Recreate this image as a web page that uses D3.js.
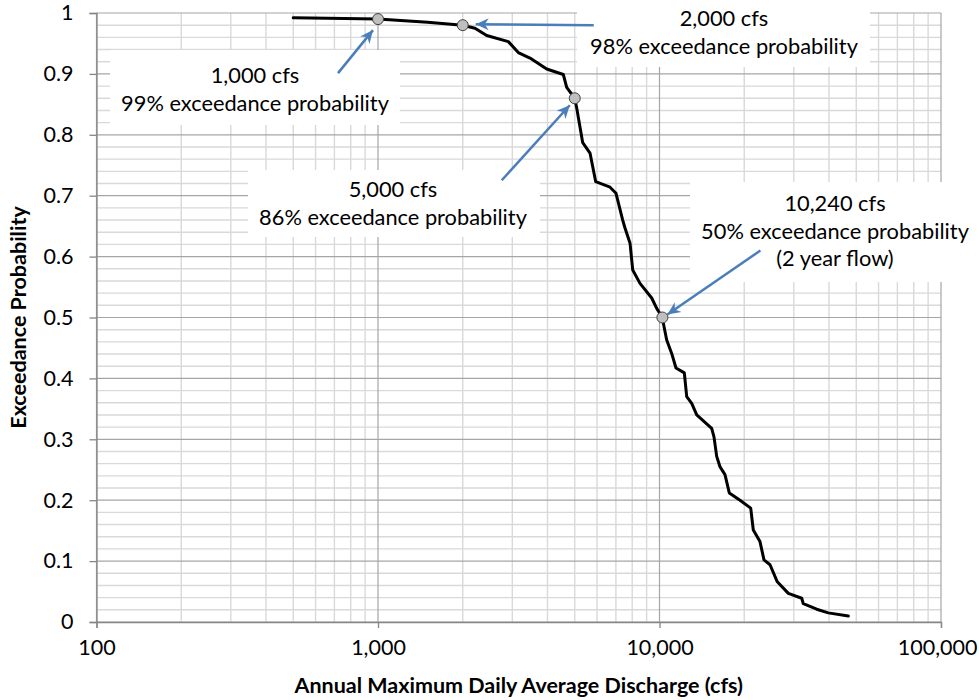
<!DOCTYPE html>
<html>
<head>
<meta charset="utf-8">
<script src="https://cdn.jsdelivr.net/npm/d3@7"></script>
<style>
  html, body { margin: 0; padding: 0; background: #fff; }
  svg { display: block; font-family: Lato, "Open Sans", sans-serif; }
</style>
</head>
<body>
<svg id="chart" width="979" height="700"></svg>
<script>
// Annual maximum daily average discharge (cfs) and its exceedance probability
const discharge = [500, 1000, 1500, 2000, 2211, 2433, 2904, 3150, 3467, 3975, 4553, 4681,
  5000, 5080, 5336, 5664, 5935, 6673, 7006, 7401, 7541, 7858, 8033, 8526, 9382, 9773, 10240,
  10316, 10607, 11048, 11444, 12251, 12494, 13014, 13559, 15324, 15615, 15965, 16400, 17085,
  17700, 19320, 21086, 21537, 22750, 23505, 24695, 26212, 28687, 32002, 32424, 36180, 39780, 46860];
const exceedance = [0.992, 0.99, 0.985, 0.98, 0.975, 0.963, 0.953, 0.935, 0.926, 0.908, 0.899, 0.878,
  0.86, 0.844, 0.787, 0.770, 0.723, 0.714, 0.704, 0.660, 0.647, 0.622, 0.578, 0.556, 0.532, 0.515, 0.500,
  0.491, 0.463, 0.441, 0.417, 0.409, 0.370, 0.359, 0.340, 0.318, 0.304, 0.272, 0.255, 0.242,
  0.212, 0.200, 0.187, 0.151, 0.132, 0.102, 0.094, 0.066, 0.047, 0.039, 0.030, 0.021, 0.015, 0.010];

// Highlighted flows
const markerFlow = [1000, 2000, 5000, 10240];
const markerProb = [0.99, 0.98, 0.86, 0.50];

// Axis ticks
const xTicks = [100, 1000, 10000, 100000];
const yTicks = [0, 0.1, 0.2, 0.3, 0.4, 0.5, 0.6, 0.7, 0.8, 0.9, 1];

// Callout text for each highlighted flow
const calloutLines = [
  ["1,000 cfs", "99% exceedance probability"],
  ["2,000 cfs", "98% exceedance probability"],
  ["5,000 cfs", "86% exceedance probability"],
  ["10,240 cfs", "50% exceedance probability", "(2 year flow)"]
];

const W = 979, H = 700;
const margin = { left: 96.5, right: 38, top: 13, bottom: 78 };

const svg = d3.select("#chart");
const x = d3.scaleLog().domain([100, 100000]).range([margin.left, W - margin.right]);
const y = d3.scaleLinear().domain([0, 1]).range([H - margin.bottom, margin.top]);

// ---- gridlines ----
const grid = svg.append("g");
const minorY = d3.range(0, 50).map(i => i * 0.02).filter((v, i) => i % 5 !== 0);
const minorX = [];
[100, 1000, 10000].forEach(d => { for (let k = 2; k <= 9; k++) minorX.push(d * k); });

grid.selectAll(".hminor").data(minorY).join("line")
  .attr("x1", x.range()[0]).attr("x2", x.range()[1])
  .attr("y1", d => y(d)).attr("y2", d => y(d))
  .attr("stroke", "#d9d9d9").attr("stroke-width", 1.4);
grid.selectAll(".vminor").data(minorX).join("line")
  .attr("y1", y.range()[0]).attr("y2", y.range()[1])
  .attr("x1", d => x(d)).attr("x2", d => x(d))
  .attr("stroke", "#d9d9d9").attr("stroke-width", 1.4);
grid.selectAll(".hmajor").data(yTicks).join("line")
  .attr("x1", x.range()[0]).attr("x2", x.range()[1])
  .attr("y1", d => y(d)).attr("y2", d => y(d))
  .attr("stroke", "#a6a6a6").attr("stroke-width", 1.2);
grid.selectAll(".vmajor").data(xTicks).join("line")
  .attr("y1", y.range()[0]).attr("y2", y.range()[1])
  .attr("x1", d => x(d)).attr("x2", d => x(d))
  .attr("stroke", "#a6a6a6").attr("stroke-width", 1.2);

// ---- axes ----
const fmt = d3.format(",");
const xAxis = svg.append("g")
  .attr("transform", `translate(0,${y(0)})`)
  .call(d3.axisBottom(x).tickValues(xTicks).tickFormat(fmt).tickSize(6).tickPadding(12));
const yAxis = svg.append("g")
  .attr("transform", `translate(${x(100)},0)`)
  .call(d3.axisLeft(y).tickValues(yTicks).tickFormat(d3.format("~g")).tickSize(7).tickPadding(16));

[xAxis, yAxis].forEach(a => {
  a.select(".domain").attr("stroke", "#868686").attr("stroke-width", 1.3);
  a.selectAll(".tick line").attr("stroke", "#868686").attr("stroke-width", 1.3);
  a.selectAll(".tick text").attr("fill", "#000").style("font-size", "21.5px")
    .style("font-family", "Lato, 'Open Sans', sans-serif");
});
// keep the last x label inside the page
xAxis.selectAll(".tick text").filter(d => d === 100000).attr("text-anchor", "end").attr("dx", "36px");

// axis titles
svg.append("text")
  .attr("x", (x.range()[0] + x.range()[1]) / 2).attr("y", 693)
  .attr("text-anchor", "middle").style("font-size", "21.5px").style("font-weight", "bold")
  .text("Annual Maximum Daily Average Discharge (cfs)");
svg.append("text")
  .attr("transform", `translate(26,${(y.range()[0] + y.range()[1]) / 2}) rotate(-90)`)
  .attr("text-anchor", "middle").style("font-size", "21.5px").style("font-weight", "bold")
  .text("Exceedance Probability");

// ---- callout boxes ----
const boxes = [
  { x0: 110, y0: 50, x1: 400, y1: 125, cx: 255, base: 83 },
  { x0: 577, y0: 0, x1: 870, y1: 67, cx: 724, base: 26 },
  { x0: 248, y0: 170, x1: 540, y1: 237, cx: 393, base: 197 },
  { x0: 690, y0: 182, x1: 979, y1: 282, cx: 835, base: 211 }
];
const lineGap = 27.5;
const callouts = svg.append("g");
boxes.forEach((b, i) => {
  callouts.append("rect")
    .attr("x", b.x0).attr("y", b.y0).attr("width", b.x1 - b.x0).attr("height", b.y1 - b.y0)
    .attr("fill", "#fff");
  const t = callouts.append("text").attr("text-anchor", "middle").style("font-size", "21.8px").attr("fill", "#000");
  calloutLines[i].forEach((s, j) => {
    t.append("tspan").attr("x", b.cx).attr("y", b.base + j * lineGap).text(s);
  });
});

// ---- exceedance curve ----
const pts = discharge.map((d, i) => [d, exceedance[i]]);
svg.append("path")
  .datum(pts)
  .attr("fill", "none").attr("stroke", "#000").attr("stroke-width", 3)
  .attr("stroke-linejoin", "round").attr("stroke-linecap", "round")
  .attr("d", d3.line().x(d => x(d[0])).y(d => y(d[1])));

// ---- arrows ----
svg.append("defs").append("marker")
  .attr("id", "head").attr("markerUnits", "userSpaceOnUse")
  .attr("viewBox", "-14 -7 16 14").attr("refX", 0).attr("refY", 0)
  .attr("markerWidth", 16).attr("markerHeight", 14).attr("orient", "auto")
  .append("path").attr("d", "M0,0 L-13,-6 L-9,0 L-13,6 Z").attr("fill", "#4a7ebb");

// head offset from the marker centre, tail offset from the head
const arrowHead = [[-5, 11], [13, -1], [-5, 7], [5, -3]];
const arrowTail = [[-35, 43], [118, 1], [-68, 75], [93, -64]];
markerFlow.forEach((f, i) => {
  const hx = x(f) + arrowHead[i][0], hy = y(markerProb[i]) + arrowHead[i][1];
  svg.append("line")
    .attr("x1", hx + arrowTail[i][0]).attr("y1", hy + arrowTail[i][1])
    .attr("x2", hx).attr("y2", hy)
    .attr("stroke", "#4a7ebb").attr("stroke-width", 2.5)
    .attr("marker-end", "url(#head)");
});

// ---- highlighted points ----
svg.selectAll(".pt").data(markerFlow).join("circle")
  .attr("cx", d => x(d)).attr("cy", (d, i) => y(markerProb[i]))
  .attr("r", 5.5).attr("fill", "#bfbfbf").attr("stroke", "#404040").attr("stroke-width", 1);
</script>
</body>
</html>
